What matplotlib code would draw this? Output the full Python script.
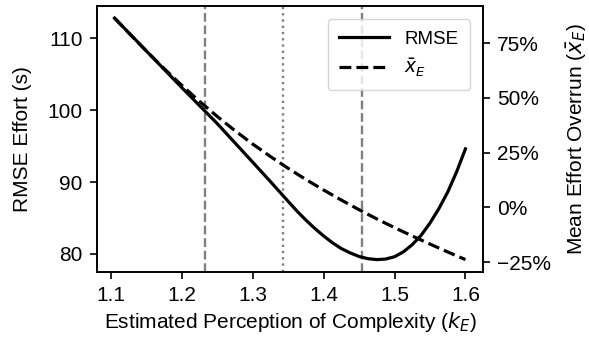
import numpy as np
import matplotlib as mpl
mpl.use('Agg')
import matplotlib.pyplot as plt
from matplotlib.ticker import PercentFormatter

plt.rcParams['font.family'] = ['Liberation Sans', 'DejaVu Sans']
plt.rcParams['font.size'] = 15
plt.rcParams['axes.linewidth'] = 1.2
plt.rcParams['xtick.major.size'] = 5.2
plt.rcParams['ytick.major.size'] = 5.2
plt.rcParams['xtick.major.width'] = 1.2
plt.rcParams['ytick.major.width'] = 1.2
plt.rcParams['xtick.major.pad'] = 5
plt.rcParams['ytick.major.pad'] = 5

# estimated perception of complexity (k_E) for the RMSE curve
k_rmse = [1.105, 1.15, 1.2, 1.25, 1.3, 1.325, 1.35, 1.3625, 1.375, 1.3875, 1.4,
          1.4125, 1.425, 1.4375, 1.45, 1.4625, 1.475, 1.4875, 1.5, 1.5125, 1.525,
          1.5375, 1.55, 1.5625, 1.575, 1.5875, 1.6]
# RMSE effort in seconds
rmse = [112.77, 108.19, 103.10, 98.10, 92.74, 90.05, 87.3, 85.95, 84.7, 83.55, 82.5,
        81.55, 80.75, 80.15, 79.65, 79.35, 79.22, 79.3, 79.62, 80.3, 81.3,
        82.6, 84.3, 86.3, 88.6, 91.4, 94.6]

# k_E for the mean overrun curve
k_over = [1.105, 1.125, 1.15, 1.175, 1.2, 1.225, 1.25, 1.275, 1.3, 1.325, 1.35,
          1.375, 1.4, 1.425, 1.45, 1.475, 1.5, 1.525, 1.55, 1.575, 1.6]
# mean effort overrun in percent
overrun = [86.5, 79.7, 71.4, 63.4, 55.7, 48.4, 41.5, 35.0, 28.9, 23.2, 17.8,
           12.7, 7.9, 3.3, -1.1, -5.3, -9.3, -13.1, -16.8, -20.4, -23.9]

k_low = 1.232
k_mean = 1.343
k_high = 1.454

fig = plt.figure(figsize=(5.89, 3.43), dpi=100)
ax = fig.add_axes([0.1647, 0.2079, 0.6553, 0.7746])
ax2 = ax.twinx()

ax.axvline(k_low, color='grey', ls='--', lw=1.7)
ax.axvline(k_high, color='grey', ls='--', lw=1.7)
ax.axvline(k_mean, color='grey', ls=':', lw=1.7)

l1, = ax.plot(k_rmse, rmse, color='black', lw=2.3, label='RMSE')
l2, = ax2.plot(k_over, overrun, color='black', lw=2.3, ls='--', label=r'$\bar{x}_E$')

ax.set_yticks([80, 90, 100, 110])
ax2.set_yticks([-25, 0, 25, 50, 75])
ax2.yaxis.set_major_formatter(PercentFormatter(100, decimals=0))
ax.set_xticks([1.1, 1.2, 1.3, 1.4, 1.5, 1.6])

ax.set_xlabel(r'Estimated Perception of Complexity ($k_E$)')
ax.set_ylabel('RMSE Effort (s)', labelpad=11)
ax2.set_ylabel(r'Mean Effort Overrun ($\bar{x}_E$)', labelpad=10)

ax2.legend(handles=[l1, l2], loc='upper right', fontsize=13.5, handlelength=2.7,
           borderpad=0.6, borderaxespad=0.7)

fig.savefig('out.png', dpi=100)
